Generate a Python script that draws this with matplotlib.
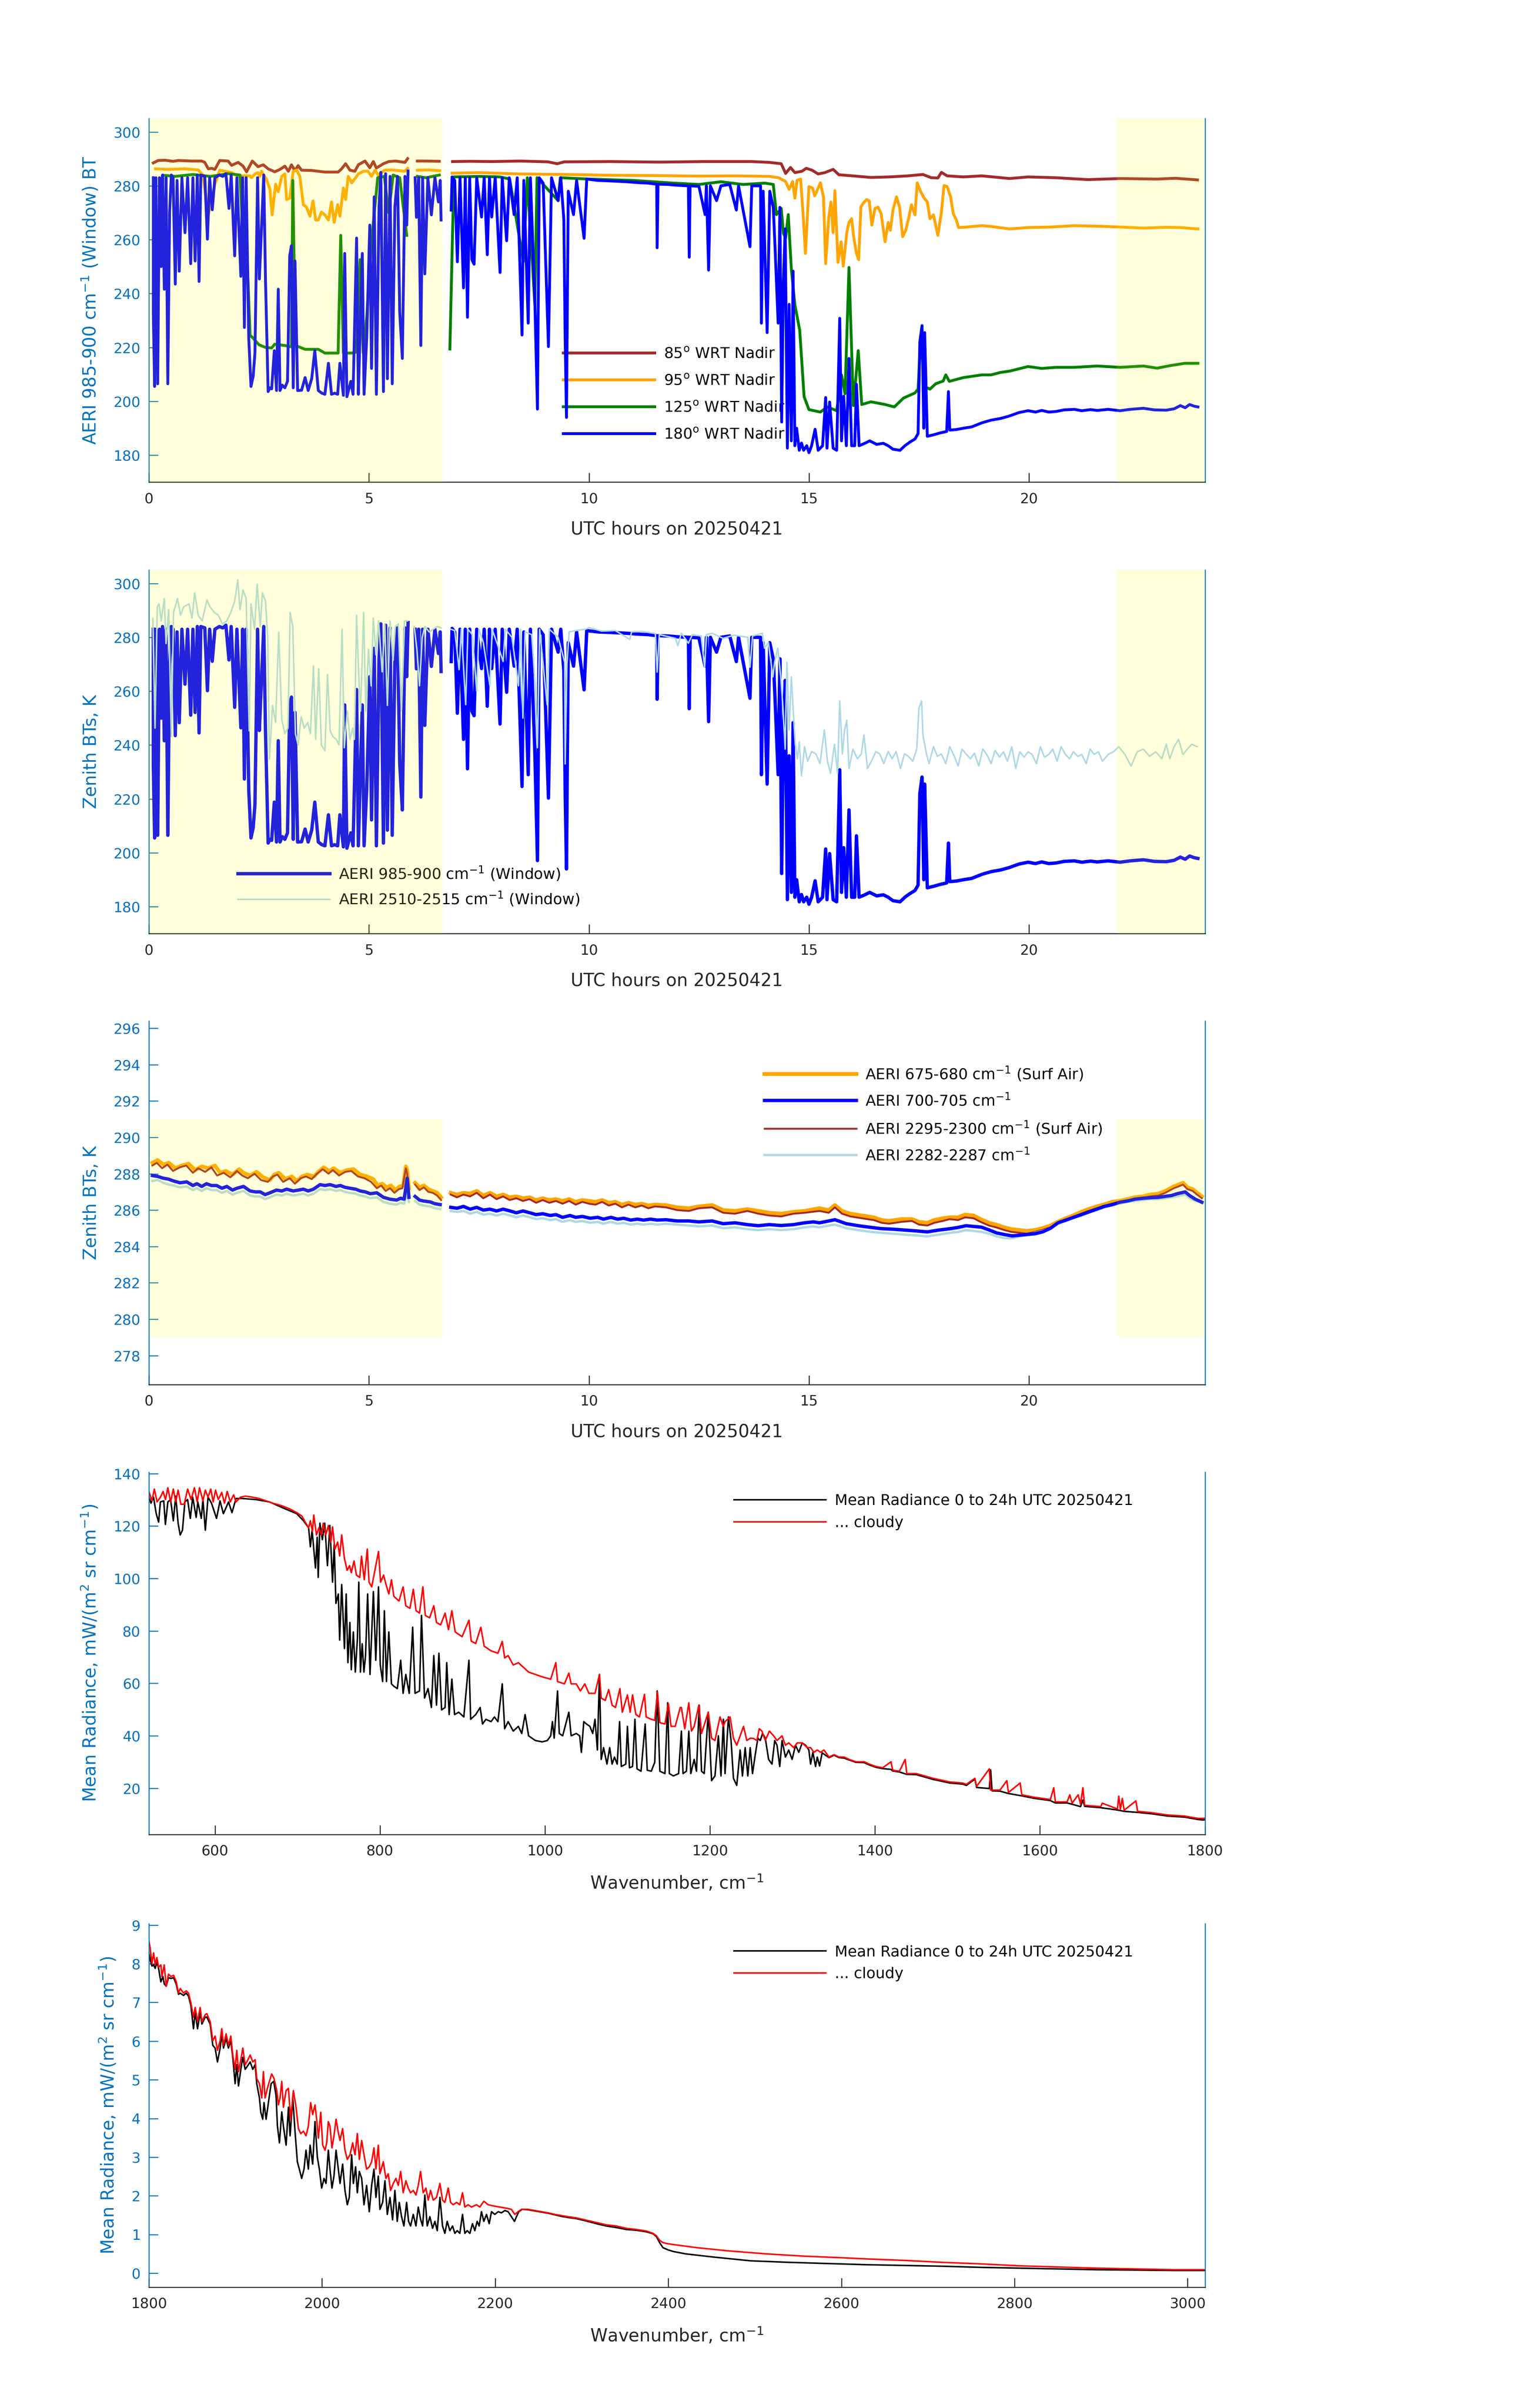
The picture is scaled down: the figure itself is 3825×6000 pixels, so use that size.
import numpy as np
import matplotlib
matplotlib.use('Agg')
import matplotlib.pyplot as plt

nan = np.nan

# ---- panel 1 : BTs for the 4 scene angles, (hour, K) ----
bt85 = [(0.1,288.5),(0.21,289.4),(0.36,289.5),(0.55,289.1),(0.67,289.4),(0.97,289.2),(1.2,289.2),(1.27,288.7),(1.35,286.3),(1.42,286.5),(1.5,286.1),(1.61,289.4),(1.8,289.2),(1.88,287.6),(2.03,288.7),(2.14,287.3),(2.22,285.2),(2.35,289.2),(2.48,287.1),(2.6,287.8),(2.71,286.3),(2.86,285.2),(2.98,286.1),(3.09,287.3),(3.17,285.4),(3.24,287.8),(3.32,285.6),(3.39,287.5),(3.47,285.8),(3.7,285.7),(4.0,285.1),(4.3,285.1),(4.38,286.3),(4.47,288.2),(4.57,285.8),(4.68,285.4),(4.76,287.8),(4.91,289.2),(5.02,286.7),(5.1,289.0),(5.17,286.6),(5.33,288.2),(5.45,289.0),(5.6,289.2),(5.82,288.7),(5.88,290.1),(5.95,nan),(6.1,289.2),(6.27,289.2),(6.6,289.1),(6.75,nan),(6.9,289.0),(7.3,289.1),(7.8,289.0),(8.44,289.2),(9.07,288.9),(9.28,288.2),(9.44,288.9),(10.5,289.0),(11.59,288.8),(12.6,289.0),(13.7,289.0),(14.1,288.7),(14.37,288.2),(14.47,284.6),(14.58,286.8),(14.68,284.9),(14.84,285.4),(14.94,286.5),(15.07,285.8),(15.21,284.4),(15.36,284.9),(15.55,286.1),(15.68,284.1),(15.99,283.7),(16.41,283.1),(16.83,283.3),(17.25,283.7),(17.59,284.2),(17.78,283.0),(17.93,282.9),(18.01,285.0),(18.14,283.7),(18.51,283.3),(18.93,283.7),(19.56,282.7),(19.98,283.3),(20.61,283.0),(21.34,282.3),(22.07,282.7),(22.91,282.5),(23.33,282.8),(23.83,282.2)]

bt95 = [(0.15,286.3),(0.44,286.1),(0.82,286.3),(1.12,285.9),(1.23,283.9),(1.35,269.2),(1.42,274.0),(1.5,280.6),(1.61,285.8),(1.88,284.9),(2.03,283.5),(2.18,283.7),(2.3,283.7),(2.33,283.0),(2.41,284.4),(2.48,284.9),(2.52,283.5),(2.56,285.4),(2.67,282.5),(2.75,278.7),(2.8,269.2),(2.88,280.6),(2.94,277.8),(3.02,283.5),(3.09,284.4),(3.13,274.9),(3.2,275.4),(3.28,285.4),(3.36,285.8),(3.43,283.5),(3.51,273.0),(3.58,272.1),(3.66,268.7),(3.73,274.4),(3.79,267.3),(3.85,267.3),(3.92,270.2),(4.0,269.2),(4.08,267.3),(4.15,274.0),(4.21,266.4),(4.29,273.0),(4.34,268.7),(4.42,279.2),(4.47,274.9),(4.53,283.5),(4.61,281.1),(4.76,284.4),(4.87,285.4),(4.98,285.4),(5.06,283.5),(5.14,285.8),(5.21,284.0),(5.36,285.8),(5.52,285.9),(5.82,285.4),(5.88,286.5),(5.95,nan),(6.1,285.8),(6.35,285.9),(6.61,285.6),(6.75,nan),(6.89,284.7),(7.5,284.9),(8.44,284.4),(9.5,284.2),(10.5,283.9),(11.5,283.8),(12.5,283.6),(13.3,283.7),(14.1,283.5),(14.31,283.0),(14.47,281.6),(14.55,278.7),(14.63,281.6),(14.68,275.4),(14.73,282.0),(14.81,282.5),(14.86,271.1),(14.92,254.9),(15.0,279.7),(15.08,279.2),(15.13,276.3),(15.21,279.2),(15.26,281.1),(15.33,275.9),(15.38,251.1),(15.45,268.3),(15.5,274.0),(15.55,262.6),(15.59,278.2),(15.66,251.6),(15.73,259.2),(15.78,250.2),(15.86,262.6),(15.91,266.4),(15.97,267.8),(16.02,260.6),(16.08,254.9),(16.13,252.6),(16.18,272.1),(16.23,273.5),(16.31,274.9),(16.37,274.4),(16.43,265.4),(16.5,271.6),(16.57,272.1),(16.64,269.7),(16.73,259.2),(16.8,266.4),(16.85,263.5),(16.91,271.1),(16.99,275.9),(17.06,272.1),(17.13,261.1),(17.2,263.5),(17.27,268.3),(17.33,273.0),(17.41,269.2),(17.46,281.1),(17.54,277.8),(17.62,275.4),(17.69,274.0),(17.75,267.8),(17.83,269.2),(17.93,261.6),(18.01,270.2),(18.07,280.1),(18.14,279.7),(18.22,275.9),(18.28,269.7),(18.35,267.3),(18.4,264.5),(18.51,264.6),(18.72,264.9),(18.93,265.2),(19.14,264.9),(19.56,264.0),(19.98,264.5),(20.5,264.7),(21.03,265.2),(21.55,265.0),(22.07,264.7),(22.6,264.3),(23.12,264.6),(23.44,264.5),(23.84,264.0)]

bt125 = [(0.33,283.9),(0.6,283.5),(1.0,284.2),(1.4,283.5),(1.8,284.5),(2.07,284.0),(2.14,260.6),(2.22,258.7),(2.3,224.5),(2.36,223.6),(2.5,221.0),(2.65,220.0),(2.79,219.8),(2.86,221.2),(3.09,220.7),(3.24,220.2),(3.27,282.0),(3.33,220.7),(3.55,219.3),(3.85,219.3),(4.0,217.9),(4.3,217.9),(4.36,261.6),(4.42,217.9),(4.6,217.9),(4.72,218.3),(4.8,252.6),(4.87,218.0),(4.95,231.0),(5.05,258.0),(5.2,283.0),(5.35,283.5),(5.45,270.0),(5.55,284.0),(5.7,283.0),(5.86,261.6),(5.95,nan),(6.1,283.5),(6.3,283.0),(6.6,284.0),(6.75,nan),(6.84,219.4),(6.93,283.3),(7.5,283.5),(7.98,283.3),(8.2,282.5),(8.51,251.8),(8.6,283.0),(8.77,236.0),(8.82,283.0),(9.3,274.5),(9.35,283.0),(10.0,282.5),(11.0,282.0),(11.92,281.0),(12.5,280.5),(13.0,281.5),(13.5,280.5),(14.0,281.0),(14.19,280.5),(14.26,269.3),(14.37,271.6),(14.42,262.3),(14.47,260.6),(14.53,269.3),(14.6,249.1),(14.68,235.9),(14.79,226.4),(14.89,201.7),(15.0,196.9),(15.26,196.0),(15.42,197.9),(15.63,196.5),(15.74,209.8),(15.82,202.8),(15.91,249.7),(16.01,198.4),(16.12,218.8),(16.2,198.8),(16.41,199.8),(16.73,198.8),(16.94,197.9),(17.15,201.2),(17.41,203.1),(17.48,204.5),(17.54,224.5),(17.63,205.4),(17.75,204.5),(17.88,206.5),(18.05,207.5),(18.11,209.8),(18.19,207.4),(18.51,208.8),(18.93,209.8),(19.14,209.8),(19.35,210.7),(19.56,211.2),(19.98,212.9),(20.29,212.2),(20.61,212.6),(21.03,212.6),(21.55,213.1),(22.07,212.6),(22.6,213.1),(22.91,212.3),(23.23,213.3),(23.54,214.1),(23.84,214.1)]

# 180 deg = zenith window channel, also used in panel 2
bt180 = [(0.10,283),(0.10,233),(0.13,205.5),(0.16,283),(0.20,206.5),(0.24,283),(0.28,250),(0.31,284),(0.35,241.6),(0.39,283),(0.43,206.5),(0.47,270),(0.51,284),(0.55,283),(0.60,243.5),(0.64,282),(0.69,248.3),(0.75,283),(0.82,262.6),(0.88,283),(0.95,251.1),(1.0,283),(1.05,252.1),(1.1,284),(1.14,244.5),(1.18,284),(1.27,283.5),(1.33,260.2),(1.38,283),(1.44,271.1),(1.5,283),(1.6,284),(1.68,283.5),(1.75,284.5),(1.82,271.6),(1.87,284),(1.95,254),(2.0,283),(2.09,246.4),(2.13,283),(2.17,227.4),(2.21,283),(2.27,223.1),(2.32,205.5),(2.37,209.3),(2.41,217.9),(2.47,283),(2.51,245.4),(2.56,264.4),(2.61,284),(2.65,245),(2.71,203.6),(2.75,205),(2.79,204.6),(2.85,218.8),(2.9,204),(2.94,241.6),(2.98,204),(3.03,206),(3.09,205),(3.15,207.4),(3.2,254),(3.24,257.8),(3.28,205),(3.32,252.1),(3.38,204),(3.47,204.1),(3.55,208.8),(3.62,204),(3.7,208.4),(3.77,218.8),(3.85,204),(3.93,203),(4.0,202.6),(4.08,214.1),(4.15,202.6),(4.22,203),(4.29,202.6),(4.34,214.1),(4.42,202.2),(4.45,254.9),(4.5,201.7),(4.59,207.4),(4.64,202.6),(4.72,260.6),(4.76,202.6),(4.8,226.4),(4.85,254.9),(4.89,202.6),(4.95,223.6),(5.02,265.4),(5.06,212.2),(5.12,275.9),(5.17,202.6),(5.23,272.1),(5.27,285),(5.33,203.6),(5.38,284.5),(5.42,208.4),(5.48,283.5),(5.53,206.5),(5.59,272.1),(5.65,283.5),(5.7,233.1),(5.76,215.9),(5.82,283.5),(5.86,265.4),(5.89,285.5),(5.95,nan),(6.05,283),(6.08,268.3),(6.13,283),(6.18,220.7),(6.22,283),(6.27,247.3),(6.34,283),(6.42,269.2),(6.5,283),(6.58,274),(6.62,282),(6.64,267.3),(6.75,nan),(6.87,271),(6.89,283.3),(6.95,282),(7.01,251.8),(7.07,283),(7.15,242.1),(7.19,283),(7.24,231.2),(7.29,283),(7.34,252.6),(7.39,250.9),(7.45,283),(7.56,268.4),(7.62,283),(7.69,254.4),(7.74,283),(7.79,268.4),(7.87,283),(7.98,247.8),(8.03,283),(8.13,259.6),(8.19,283),(8.3,269.3),(8.37,283),(8.48,224.6),(8.52,282),(8.62,229),(8.67,283),(8.77,237.8),(8.83,197.1),(8.87,283),(8.96,281),(9.08,220.3),(9.15,283),(9.3,274.5),(9.36,283),(9.43,267.5),(9.46,222.9),(9.49,194),(9.53,278),(9.65,269.3),(9.72,282),(9.89,260.5),(9.95,282.5),(10.2,282),(10.5,281.8),(10.86,281.5),(11.1,281.2),(11.35,281),(11.54,280.6),(11.55,257),(11.57,280.6),(11.8,280.5),(12.0,280.2),(12.26,280),(12.28,253.5),(12.3,280),(12.5,279.8),(12.64,269.3),(12.67,280),(12.72,248.7),(12.76,280),(12.9,274.5),(13.0,280),(13.2,280.5),(13.35,271),(13.4,280),(13.66,257.4),(13.7,280),(13.9,280),(13.92,229),(13.96,278),(14.05,225.5),(14.11,278),(14.19,271.9),(14.23,257),(14.3,229),(14.34,272),(14.38,192.3),(14.42,245),(14.46,264),(14.51,182.6),(14.55,236),(14.6,185.3),(14.64,248.3),(14.68,183.5),(14.72,190),(14.78,181.8),(14.83,184.5),(14.88,181.8),(14.95,183.5),(15.0,180.9),(15.06,183.5),(15.14,189.6),(15.21,181.8),(15.31,183.5),(15.38,201.4),(15.41,182.6),(15.47,199.7),(15.55,182.6),(15.63,181.8),(15.7,230.8),(15.74,185.3),(15.79,201.9),(15.85,183.5),(15.91,215.9),(15.97,183.5),(16.04,183.5),(16.08,206.3),(16.14,183.5),(16.27,184.4),(16.38,185.3),(16.54,184),(16.69,184.4),(16.8,183.5),(16.91,182.2),(17.07,181.8),(17.18,183.5),(17.29,184.8),(17.41,186),(17.48,188),(17.52,222),(17.57,228.1),(17.61,190),(17.63,225.5),(17.69,187),(17.82,187.5),(17.97,188.2),(18.13,188.8),(18.17,203.6),(18.2,189.3),(18.35,189.5),(18.51,190),(18.7,190.5),(18.93,192),(19.14,193),(19.35,193.6),(19.55,194.5),(19.77,195.8),(19.98,196.5),(20.15,196),(20.29,196.6),(20.45,196),(20.61,196.2),(20.8,196.8),(21.03,197),(21.2,196.5),(21.4,196.9),(21.55,196.6),(21.8,197),(22.07,196.5),(22.3,197),(22.6,197.4),(22.85,196.8),(23.12,196.7),(23.3,197.2),(23.44,198.4),(23.55,197.6),(23.65,198.8),(23.75,198.2),(23.84,197.9)]

# ---- panel 2 : 2510-2515 cm-1 window ----
bt2510 = [(0.09,287.1),(0.14,246.3),(0.19,291.3),(0.23,292.4),(0.28,286.1),(0.35,294.4),(0.39,277.7),(0.45,290.3),(0.51,243.2),(0.56,289.2),(0.65,294.4),(0.72,288.2),(0.79,291.3),(0.91,292.4),(0.98,287.1),(1.04,296.5),(1.12,288.2),(1.21,286.1),(1.32,293.9),(1.39,291.3),(1.49,289.2),(1.58,288.2),(1.67,285),(1.77,286.1),(1.86,289.2),(1.95,293.4),(2.02,301.3),(2.07,290.3),(2.14,297.6),(2.21,294.4),(2.28,245.3),(2.32,292.4),(2.4,283),(2.46,299.7),(2.53,284),(2.58,296.5),(2.65,293.4),(2.7,279.8),(2.74,234.8),(2.81,254.7),(2.88,248.4),(2.95,281.9),(3.02,249.5),(3.09,244.2),(3.16,246.3),(3.21,289.2),(3.27,284),(3.33,244.2),(3.39,240),(3.46,250.5),(3.53,246.3),(3.61,248.4),(3.67,244.2),(3.74,269.3),(3.79,242.1),(3.86,268.3),(3.92,240),(4.0,237.9),(4.06,266.2),(4.12,245.3),(4.18,243.2),(4.26,242.1),(4.32,240),(4.39,283),(4.44,239),(4.51,252.6),(4.57,242.1),(4.63,246.3),(4.67,242.1),(4.72,288.2),(4.77,265.2),(4.81,252.6),(4.88,289.2),(4.93,252.6),(4.99,275.6),(5.05,262),(5.1,287.1),(5.16,273.5),(5.22,286.1),(5.3,267.2),(5.36,285),(5.42,254.7),(5.48,286.1),(5.55,271.4),(5.6,284),(5.67,285),(5.74,252.6),(5.81,286.1),(5.88,286.1),(5.95,nan),(6.03,284),(6.09,275.6),(6.15,262),(6.21,279.8),(6.27,284),(6.37,282),(6.46,283),(6.55,284),(6.64,283.5),(6.75,nan),(6.86,283),(6.95,282.5),(7.05,268),(7.1,283),(7.2,255),(7.25,283),(7.35,281),(7.45,260),(7.5,283),(7.6,278),(7.75,262),(7.8,283),(7.95,276),(8.05,271),(8.1,283),(8.25,280),(8.4,262),(8.45,283),(8.5,250),(8.55,282),(8.7,281),(8.78,262),(8.83,239),(8.88,283),(9.05,255),(9.1,283),(9.3,280),(9.45,270.7),(9.46,233),(9.5,270),(9.55,282),(9.7,282.5),(9.92,283),(10.01,283.6),(10.29,282.3),(10.6,282.5),(10.93,279.2),(10.97,282),(11.2,282.2),(11.51,281.4),(11.55,267.1),(11.6,281),(11.97,279.6),(12.02,276.9),(12.1,281.5),(12.26,277.8),(12.35,281),(12.55,280.5),(12.63,268.9),(12.67,281),(12.8,281.5),(13.05,279.6),(13.3,280.8),(13.61,280),(13.66,268.9),(13.72,280.5),(13.94,281.5),(13.99,276),(14.08,278),(14.18,265.3),(14.22,270.7),(14.29,276),(14.36,265.3),(14.41,253.7),(14.46,238.5),(14.5,270.7),(14.55,245.6),(14.6,265.3),(14.64,253.7),(14.69,240.3),(14.74,234.9),(14.78,241.2),(14.83,228.6),(14.9,239.4),(14.97,234),(15.06,237.6),(15.16,236.7),(15.25,233.1),(15.35,245.6),(15.42,234),(15.49,229.5),(15.58,240.3),(15.65,229.5),(15.7,256.4),(15.76,236.7),(15.81,245.6),(15.86,249.2),(15.91,231.3),(16.0,238.5),(16.1,234.9),(16.19,236.7),(16.25,243.8),(16.33,231.3),(16.42,234),(16.52,237.6),(16.61,236.7),(16.7,233.1),(16.8,237.6),(16.89,234.9),(16.98,237.6),(17.08,231.3),(17.17,236.7),(17.26,235.8),(17.36,234),(17.45,238.5),(17.5,253.7),(17.56,256.4),(17.59,243.8),(17.67,236.7),(17.73,233.1),(17.83,239.4),(17.92,235.8),(18.01,236.7),(18.11,233.1),(18.2,239.4),(18.3,236),(18.39,232.2),(18.48,238.5),(18.58,236.5),(18.67,234.9),(18.76,237),(18.86,232.2),(18.95,238.5),(19.04,236.5),(19.14,233.1),(19.23,238),(19.33,235.5),(19.42,237.5),(19.51,234),(19.61,239.4),(19.7,231.3),(19.79,237.5),(19.89,235.5),(19.98,237.5),(20.07,236.5),(20.17,233.1),(20.26,239.4),(20.35,235.5),(20.45,236.5),(20.54,238.5),(20.64,234),(20.73,239.4),(20.83,236.5),(20.92,234.9),(21.01,237.5),(21.11,235.8),(21.2,236.5),(21.3,233.1),(21.39,238.5),(21.48,236.5),(21.58,237.5),(21.67,234),(21.8,236.5),(21.92,237.5),(22.04,239.4),(22.18,236.5),(22.32,232.2),(22.46,237.5),(22.6,238.5),(22.74,235.8),(22.88,237.5),(23.02,234.9),(23.12,240.3),(23.2,234.9),(23.3,239.4),(23.4,242.1),(23.5,236.5),(23.6,238.5),(23.7,240.3),(23.82,239.4)]

# ---- panel 3 : surface-air channels ----
bt675 = [(0.08,288.6),(0.2,288.75),(0.33,288.5),(0.45,288.6),(0.6,288.3),(0.75,288.45),(0.9,288.55),(1.05,288.2),(1.2,288.4),(1.35,288.3),(1.5,288.45),(1.62,288.05),(1.75,288.15),(1.9,287.95),(2.05,288.25),(2.15,288.05),(2.3,287.9),(2.45,288.1),(2.6,287.8),(2.75,287.65),(2.85,287.95),(2.95,288.05),(3.1,287.7),(3.25,287.85),(3.36,287.6),(3.48,287.85),(3.6,287.95),(3.75,287.85),(3.85,288.1),(3.97,288.35),(4.1,288.15),(4.2,288.3),(4.35,288.05),(4.5,288.2),(4.65,288.25),(4.8,287.95),(4.95,287.85),(5.1,287.7),(5.2,287.35),(5.3,287.45),(5.4,287.25),(5.5,287.35),(5.6,287.1),(5.7,287.3),(5.78,287.35),(5.84,288.4),(5.87,288.2),(5.91,287.2),(5.98,nan),(6.05,287.5),(6.15,287.25),(6.25,287.35),(6.35,287.15),(6.45,287.05),(6.55,286.95),(6.64,286.7),(6.75,nan),(6.86,286.95),(7.0,286.85),(7.15,286.95),(7.3,286.9),(7.45,287.05),(7.6,286.8),(7.75,286.95),(7.9,286.75),(8.05,286.85),(8.2,286.7),(8.35,286.75),(8.5,286.65),(8.65,286.7),(8.8,286.55),(8.95,286.65),(9.1,286.55),(9.25,286.6),(9.4,286.5),(9.55,286.6),(9.7,286.45),(9.85,286.55),(10.0,286.5),(10.15,286.45),(10.3,286.55),(10.45,286.4),(10.6,286.45),(10.75,286.3),(10.9,286.4),(11.05,286.3),(11.2,286.35),(11.35,286.25),(11.5,286.3),(11.75,286.27),(12.0,286.15),(12.27,286.1),(12.5,286.2),(12.8,286.27),(13.05,286.0),(13.32,285.95),(13.6,286.05),(13.85,285.95),(14.1,285.85),(14.37,285.8),(14.65,285.9),(14.9,285.95),(15.24,286.1),(15.45,286.0),(15.59,286.27),(15.75,285.95),(15.94,285.8),(16.2,285.7),(16.47,285.6),(16.65,285.45),(16.82,285.4),(17.1,285.5),(17.34,285.5),(17.5,285.35),(17.69,285.3),(17.85,285.45),(18.04,285.55),(18.2,285.6),(18.39,285.6),(18.55,285.75),(18.74,285.7),(18.9,285.5),(19.09,285.3),(19.25,285.2),(19.44,285.05),(19.6,284.95),(19.79,284.9),(19.95,284.85),(20.14,284.9),(20.3,285.0),(20.49,285.15),(20.65,285.35),(20.84,285.55),(21.0,285.7),(21.19,285.9),(21.35,286.05),(21.54,286.2),(21.7,286.3),(21.89,286.45),(22.05,286.5),(22.24,286.6),(22.4,286.7),(22.59,286.75),(22.75,286.85),(22.94,286.9),(23.1,287.05),(23.29,287.3),(23.4,287.4),(23.5,287.5),(23.6,287.25),(23.72,287.15),(23.82,286.95),(23.93,286.75)]

bt700 = [(0.08,287.9),(0.2,287.85),(0.33,287.75),(0.45,287.7),(0.56,287.6),(0.71,287.5),(0.86,287.55),(1.0,287.35),(1.09,287.45),(1.2,287.3),(1.31,287.45),(1.42,287.35),(1.54,287.35),(1.66,287.2),(1.77,287.3),(1.9,287.1),(2.0,287.2),(2.15,287.3),(2.3,287.05),(2.42,287.0),(2.53,287.0),(2.64,286.85),(2.75,286.95),(2.9,287.1),(3.02,287.05),(3.13,287.15),(3.28,287.05),(3.4,287.1),(3.51,287.15),(3.62,287.05),(3.74,287.15),(3.89,287.4),(4.0,287.35),(4.12,287.4),(4.25,287.3),(4.35,287.35),(4.46,287.25),(4.57,287.2),(4.7,287.15),(4.8,287.05),(4.92,287.0),(5.03,286.9),(5.18,286.95),(5.33,286.7),(5.48,286.6),(5.63,286.55),(5.72,286.65),(5.8,286.6),(5.87,287.75),(5.91,286.7),(5.98,nan),(6.05,286.75),(6.15,286.55),(6.24,286.5),(6.39,286.45),(6.5,286.35),(6.62,286.3),(6.75,nan),(6.86,286.15),(7.0,286.1),(7.15,286.2),(7.3,286.05),(7.45,286.15),(7.6,286.0),(7.75,286.05),(7.9,285.95),(8.05,286.05),(8.21,285.95),(8.35,285.85),(8.5,285.95),(8.66,285.85),(8.8,285.75),(8.95,285.8),(9.12,285.7),(9.25,285.75),(9.4,285.6),(9.57,285.7),(9.7,285.6),(9.85,285.65),(10.03,285.55),(10.2,285.6),(10.33,285.5),(10.5,285.6),(10.65,285.5),(10.79,285.55),(10.95,285.45),(11.1,285.5),(11.24,285.45),(11.4,285.5),(11.55,285.45),(11.75,285.47),(12.0,285.4),(12.27,285.4),(12.5,285.35),(12.8,285.4),(13.05,285.25),(13.32,285.3),(13.6,285.2),(13.85,285.14),(14.1,285.2),(14.37,285.15),(14.65,285.2),(14.9,285.3),(15.1,285.35),(15.24,285.3),(15.45,285.4),(15.59,285.47),(15.85,285.25),(16.12,285.14),(16.4,285.05),(16.64,284.98),(16.9,284.95),(17.17,284.9),(17.45,284.85),(17.69,284.8),(17.95,284.9),(18.22,284.98),(18.4,285.05),(18.57,285.14),(18.75,285.1),(18.92,285.06),(19.1,284.9),(19.27,284.74),(19.45,284.65),(19.62,284.58),(19.8,284.62),(19.97,284.66),(20.14,284.7),(20.31,284.8),(20.49,285.0),(20.66,285.3),(20.84,285.45),(21.01,285.6),(21.19,285.75),(21.36,285.9),(21.54,286.05),(21.71,286.2),(21.89,286.3),(22.06,286.43),(22.24,286.5),(22.41,286.6),(22.59,286.65),(22.76,286.68),(22.94,286.7),(23.11,286.76),(23.24,286.8),(23.37,286.9),(23.46,286.95),(23.55,287.0),(23.65,286.8),(23.78,286.6),(23.87,286.5),(23.93,286.43)]

bt2295 = [(0.08,288.45),(0.18,288.6),(0.3,288.3),(0.42,288.5),(0.55,288.15),(0.7,288.35),(0.85,288.45),(1.0,288.05),(1.12,288.3),(1.28,288.1),(1.42,288.35),(1.55,287.9),(1.7,288.05),(1.85,287.8),(2.0,288.15),(2.12,287.9),(2.25,287.75),(2.4,288.0),(2.55,287.65),(2.7,287.55),(2.82,287.85),(2.92,287.95),(3.05,287.55),(3.2,287.75),(3.32,287.45),(3.45,287.75),(3.57,287.85),(3.7,287.7),(3.82,288.0),(3.95,288.25),(4.08,288.0),(4.18,288.2),(4.32,287.9),(4.46,288.1),(4.6,288.15),(4.75,287.85),(4.9,287.75),(5.05,287.55),(5.18,287.2),(5.28,287.35),(5.38,287.05),(5.48,287.2),(5.58,286.95),(5.68,287.15),(5.76,287.2),(5.84,288.3),(5.87,288.0),(5.91,287.0),(5.98,nan),(6.05,287.4),(6.15,287.1),(6.25,287.25),(6.35,287.0),(6.45,286.95),(6.55,286.8),(6.64,286.55),(6.75,nan),(6.86,286.85),(7.0,286.7),(7.15,286.85),(7.3,286.75),(7.45,286.95),(7.6,286.65),(7.75,286.85),(7.9,286.6),(8.05,286.75),(8.2,286.55),(8.35,286.65),(8.5,286.5),(8.65,286.6),(8.8,286.4),(8.95,286.55),(9.1,286.4),(9.25,286.5),(9.4,286.35),(9.55,286.5),(9.7,286.3),(9.85,286.45),(10.0,286.35),(10.15,286.3),(10.3,286.45),(10.45,286.25),(10.6,286.35),(10.75,286.15),(10.9,286.3),(11.05,286.15),(11.2,286.25),(11.35,286.1),(11.5,286.2),(11.75,286.15),(12.0,286.0),(12.27,285.95),(12.5,286.1),(12.8,286.15),(13.05,285.85),(13.32,285.8),(13.6,285.95),(13.85,285.8),(14.1,285.7),(14.37,285.65),(14.65,285.8),(14.9,285.85),(15.24,285.95),(15.45,285.85),(15.59,286.15),(15.75,285.8),(15.94,285.65),(16.2,285.55),(16.47,285.45),(16.65,285.3),(16.82,285.25),(17.1,285.35),(17.34,285.4),(17.5,285.2),(17.69,285.15),(17.85,285.3),(18.04,285.4),(18.2,285.5),(18.39,285.45),(18.55,285.6),(18.74,285.55),(18.9,285.35),(19.09,285.15),(19.25,285.05),(19.44,284.9),(19.6,284.8),(19.79,284.75),(19.95,284.7),(20.14,284.8),(20.3,284.9),(20.49,285.05),(20.65,285.25),(20.84,285.45),(21.0,285.6),(21.19,285.8),(21.35,285.95),(21.54,286.1),(21.7,286.2),(21.89,286.35),(22.05,286.4),(22.24,286.5),(22.4,286.6),(22.59,286.65),(22.75,286.75),(22.94,286.8),(23.1,286.95),(23.29,287.2),(23.4,287.3),(23.5,287.4),(23.6,287.15),(23.72,287.05),(23.82,286.85),(23.93,286.65)]

bt2282 = [(0.08,287.6),(0.2,287.65),(0.33,287.5),(0.45,287.4),(0.56,287.35),(0.71,287.25),(0.86,287.3),(1.0,287.1),(1.09,287.2),(1.2,287.05),(1.31,287.2),(1.42,287.1),(1.54,287.1),(1.66,286.95),(1.77,287.05),(1.9,286.85),(2.0,286.95),(2.15,287.05),(2.3,286.8),(2.42,286.75),(2.53,286.75),(2.64,286.6),(2.75,286.7),(2.9,286.85),(3.02,286.8),(3.13,286.9),(3.28,286.8),(3.4,286.85),(3.51,286.9),(3.62,286.8),(3.74,286.9),(3.89,287.15),(4.0,287.1),(4.12,287.15),(4.25,287.05),(4.35,287.1),(4.46,287.0),(4.57,286.95),(4.7,286.9),(4.8,286.8),(4.92,286.75),(5.03,286.65),(5.18,286.7),(5.33,286.45),(5.48,286.35),(5.63,286.3),(5.72,286.4),(5.8,286.35),(5.87,286.9),(5.91,286.45),(5.98,nan),(6.05,286.5),(6.15,286.3),(6.24,286.25),(6.39,286.2),(6.5,286.1),(6.62,286.05),(6.75,nan),(6.86,285.95),(7.0,285.9),(7.15,285.95),(7.3,285.8),(7.45,285.9),(7.6,285.75),(7.75,285.8),(7.9,285.7),(8.05,285.8),(8.21,285.7),(8.35,285.6),(8.5,285.7),(8.66,285.6),(8.8,285.5),(8.95,285.55),(9.12,285.45),(9.25,285.5),(9.4,285.35),(9.57,285.45),(9.7,285.35),(9.85,285.4),(10.03,285.3),(10.2,285.35),(10.33,285.25),(10.5,285.35),(10.65,285.25),(10.79,285.3),(10.95,285.2),(11.1,285.25),(11.24,285.2),(11.4,285.25),(11.55,285.2),(11.75,285.25),(12.0,285.2),(12.27,285.15),(12.5,285.1),(12.8,285.15),(13.05,285.0),(13.32,285.05),(13.6,284.95),(13.85,284.9),(14.1,284.95),(14.37,284.9),(14.65,284.95),(14.9,285.05),(15.1,285.1),(15.24,285.05),(15.45,285.15),(15.59,285.2),(15.85,285.0),(16.12,284.9),(16.4,284.8),(16.64,284.75),(16.9,284.7),(17.17,284.65),(17.45,284.6),(17.69,284.55),(17.95,284.65),(18.22,284.75),(18.4,284.8),(18.57,284.9),(18.75,284.85),(18.92,284.8),(19.1,284.7),(19.27,284.55),(19.45,284.45),(19.62,284.45),(19.8,284.55),(19.97,284.65),(20.14,284.75),(20.31,284.85),(20.49,285.0),(20.66,285.25),(20.84,285.4),(21.01,285.55),(21.19,285.7),(21.36,285.85),(21.54,286.0),(21.71,286.15),(21.89,286.25),(22.06,286.35),(22.24,286.45),(22.41,286.5),(22.59,286.55),(22.76,286.6),(22.94,286.6),(23.11,286.65),(23.24,286.7),(23.37,286.75),(23.46,286.8),(23.55,286.85),(23.65,286.65),(23.78,286.5),(23.87,286.45),(23.93,286.4)]

# ---- panel 4 : mean radiance 520-1800 cm-1, (wavenumber, mW/(m2 sr cm-1)) ----
rad_mean_lw = [(520,131.0),(522.5,128.7),(525.6,131.0),(528.9,124.7),(531.8,121.5),(533.9,129.2),(538,129.6),(540,120.6),(543,129.2),(546.3,130.1),(549.6,122.0),(552.5,131.4),(555.4,121.1),(557.9,116.6),(560.7,118.4),(563.6,129.2),(566.9,130.1),(570.2,122.9),(573.1,131.0),(577.3,123.3),(579.3,129.2),(583.5,122.9),(585.5,130.1),(588.4,118.4),(591.7,131.0),(595.9,128.7),(602,122.9),(606.2,129.6),(610.3,124.7),(616.5,129.2),(620.7,125.1),(625.6,130.5),(633,130.5),(649.6,130.1),(666.1,129.2),(682.6,126.9),(699.2,124.7),(707.4,122.0),(713.6,119.3),(715.7,112.1),(717.8,118.4),(721.9,104.0),(724,115.7),(725.2,100.4),(727.3,121.1),(730.2,114.8),(733.1,121.1),(736.4,104.9),(739.3,120.2),(742.6,98.6),(744.6,113.0),(746.7,90.5),(749.6,94.1),(751.2,76.5),(753.7,97.7),(757,73.3),(759.1,94.1),(761.2,67.9),(763.6,83.2),(765.3,65.2),(767.8,79.6),(770.2,64.3),(772.7,76.9),(774.4,98.6),(776.4,64.3),(778.5,75.1),(780.6,64.3),(782.6,70.6),(785.1,94.1),(788,63.4),(792.1,95.0),(795,68.8),(798.3,96.8),(800.4,67.1),(803.3,60.7),(805.4,87.7),(807.9,60.7),(810.8,79.6),(814,59.8),(816.9,58.9),(821.1,58.0),(825.2,68.8),(828.1,56.2),(831.4,63.4),(835.5,56.2),(839.7,81.4),(842.6,56.2),(848,57.1),(850.4,85.9),(854.1,54.4),(858.3,58.0),(862.4,50.8),(865.3,70.6),(868.6,51.7),(871.5,71.5),(874.8,49.9),(879,50.8),(881,67.9),(883.9,48.1),(887.2,61.6),(890.5,48.1),(895.5,49.0),(901.7,47.2),(907.9,68.8),(910,46.3),(916.1,48.1),(921.5,50.8),(924.4,44.5),(928.5,46.3),(934.7,45.4),(938.8,47.2),(943,45.4),(948.3,59.8),(951.2,42.7),(955.4,45.4),(961.6,41.8),(967.8,43.6),(971.9,40.9),(976,48.1),(980.2,40.0),(988.4,38.2),(996.7,37.7),(1002.9,38.2),(1007,40.0),(1009.1,45.4),(1011.2,39.1),(1015.3,57.1),(1017.4,40.9),(1021.5,40.0),(1029,49.0),(1031.8,40.0),(1038,40.9),(1042.1,40.0),(1044.2,33.7),(1047.1,45.4),(1050.4,44.5),(1054.5,43.6),(1057.9,40.9),(1060.7,46.3),(1063.6,34.6),(1066.1,63.4),(1068.2,31.0),(1071.1,35.5),(1075.2,29.2),(1078.5,35.5),(1081.4,29.2),(1084.3,31.9),(1087.6,29.2),(1090.5,45.4),(1092.6,28.3),(1098,29.2),(1100,43.6),(1102.5,27.8),(1106.2,28.3),(1109.1,46.3),(1111.6,27.4),(1116.5,26.5),(1121.5,44.5),(1124,26.9),(1128.9,26.5),(1133.1,29.9),(1136,57.1),(1139.3,26.5),(1145.5,25.6),(1148.8,52.6),(1150.8,25.6),(1155.8,24.7),(1162,25.6),(1165.4,41.8),(1167.4,25.6),(1171.5,26.5),(1174.4,41.8),(1176.8,25.6),(1180.9,31.0),(1183.7,26.5),(1187,51.7),(1189.8,26.5),(1193.1,25.6),(1198,49.0),(1202,22.9),(1206.1,24.7),(1210.2,40.0),(1213.4,24.7),(1216.3,46.3),(1218.3,25.6),(1222.4,47.2),(1225.6,38.2),(1228.5,23.8),(1232.5,21.1),(1236.6,34.6),(1239.4,24.7),(1242.7,35.5),(1245.9,24.7),(1248.8,35.5),(1251.6,25.6),(1254.9,32.8),(1258.1,39.1),(1261,38.2),(1263.8,40.9),(1267.1,39.1),(1271.1,31.0),(1275.2,29.2),(1278.5,38.2),(1281.3,36.4),(1284.6,28.3),(1287.4,38.2),(1291.5,31.9),(1295.5,34.6),(1299.6,31.0),(1303.7,36.4),(1307.7,33.7),(1311.8,37.3),(1315.9,36.4),(1319.9,34.6),(1322,29.2),(1324.8,33.7),(1328,28.3),(1330.1,31.9),(1332.9,28.5),(1336,33.5),(1344.3,31.7),(1350.4,32.6),(1356.5,31.7),(1362.6,31.5),(1368.7,30.8),(1376.8,29.9),(1387,29.8),(1393.1,28.9),(1401.2,28.0),(1409.3,27.5),(1419.5,27.2),(1421.5,26.6),(1429.7,26.2),(1438.6,25.3),(1450,25.2),(1470.3,23.4),(1490.7,22.0),(1506.1,21.6),(1510.9,21.1),(1521.1,23.5),(1523.2,20.3),(1538.6,19.9),(1540.2,27.0),(1542,19.0),(1551.6,18.9),(1561.8,18.0),(1578,17.1),(1592.3,16.2),(1612.6,15.3),(1618.7,14.4),(1632.9,14.4),(1639,13.9),(1649.2,13.0),(1652,15.5),(1654.1,13.1),(1673.6,12.6),(1693.9,11.7),(1702,11.2),(1718.3,10.8),(1734.6,10.3),(1754.9,9.4),(1775.2,9.0),(1791.5,8.1),(1797.6,7.9),(1800,8.0)]

rad_cloudy_lw = [(520,133.2),(523.7,129.6),(526.6,134.1),(529.9,129.2),(534,131.0),(537.2,133.2),(540.1,130.1),(543,134.6),(546.3,129.2),(549.6,134.1),(552.5,129.2),(555.4,133.7),(558.7,128.3),(562.8,128.3),(567,134.1),(571.1,130.1),(575.2,134.6),(578.5,129.2),(581.4,134.6),(585.5,129.6),(588.4,133.7),(591.7,131.0),(595,134.1),(597.9,129.2),(600.8,133.7),(604.1,130.1),(608.3,132.8),(611.6,128.7),(614.9,133.2),(618.6,129.2),(622.7,131.9),(625.6,129.2),(631,131.0),(637.2,131.4),(645.5,131.0),(653.7,130.5),(662,129.6),(670.2,128.7),(680.6,127.8),(690.9,126.5),(699.2,125.1),(705.4,123.8),(709.5,121.5),(713.6,119.3),(715.7,122.0),(718.2,117.9),(719.8,124.2),(723.1,116.6),(726,119.3),(728.9,116.6),(731.4,121.1),(734.3,116.6),(737.6,120.2),(740.5,113.9),(742.6,119.7),(745.5,111.2),(748.8,113.9),(751.2,108.6),(753.7,116.6),(757,107.6),(760.3,103.1),(763.2,104.9),(765.3,102.2),(768.6,106.7),(771.5,101.3),(775.6,100.4),(777.7,108.5),(781,99.5),(784.7,111.2),(786.8,98.6),(790.1,96.8),(795,104.9),(798.3,110.3),(800.8,98.6),(804.5,101.3),(807.4,97.7),(810.8,94.1),(814,99.5),(816.9,93.2),(823.1,91.4),(828.1,96.8),(831.4,89.6),(836.4,88.6),(840.5,95.9),(843.8,87.7),(848,86.8),(852.1,96.8),(855,85.9),(860.3,85.0),(865.3,89.6),(868.6,83.2),(873.6,82.3),(879,86.8),(883.1,80.5),(887.2,87.7),(891.3,79.6),(899.6,77.8),(907.9,84.1),(910.7,76.1),(916.1,75.2),(922.3,81.4),(926.4,74.2),(934.7,72.4),(943,71.5),(948.3,76.0),(951.2,69.7),(955.4,70.6),(961.6,67.0),(967.8,67.9),(974,66.1),(980.2,64.3),(988.4,63.4),(996.7,62.5),(1007,61.6),(1013.2,67.9),(1015.3,60.7),(1023.6,59.8),(1029,63.9),(1031.8,59.8),(1038,59.8),(1043,57.1),(1048.3,59.8),(1053.3,56.2),(1060.7,56.2),(1066.1,63.4),(1068.2,54.4),(1073.1,53.5),(1077.3,57.6),(1081.4,51.7),(1085.5,50.8),(1090.9,58.0),(1093.8,49.0),(1100,55.6),(1103.3,49.0),(1106.2,55.6),(1110.3,48.1),(1114.5,47.2),(1120.7,55.8),(1122.7,47.2),(1128.9,46.3),(1133.1,45.9),(1136.4,56.7),(1139.3,45.0),(1145.5,44.5),(1149.6,52.2),(1152.9,43.6),(1157.9,43.6),(1164,50.8),(1165.4,50.8),(1169.5,42.7),(1174.4,52.6),(1177.6,41.8),(1180.9,43.6),(1186.6,51.7),(1189.8,40.9),(1198,49.0),(1202,39.1),(1206.1,38.2),(1212.2,47.2),(1216.3,43.6),(1218.3,45.4),(1224.4,47.2),(1228.5,39.1),(1232.5,36.4),(1236.6,40.0),(1240.7,43.6),(1244.7,38.2),(1248.8,39.1),(1252.8,39.0),(1256.9,38.2),(1259.8,42.7),(1263,41.8),(1267.1,38.2),(1272,41.8),(1277.2,40.0),(1281.3,38.2),(1287.4,40.0),(1291.5,36.4),(1295.5,37.3),(1301.6,35.5),(1305.7,37.3),(1311.8,37.3),(1317.9,35.5),(1322,35.5),(1326,33.7),(1330.1,34.6),(1334.1,33.7),(1338.2,34.6),(1344.3,31.9),(1350.4,32.8),(1356.5,31.9),(1362.6,31.9),(1368.7,31.0),(1376.8,30.1),(1387,30.1),(1393.1,29.2),(1401.2,28.3),(1409.3,27.8),(1419.5,30.1),(1421.5,26.9),(1429.7,26.5),(1436.6,31.0),(1438.6,25.6),(1450,25.6),(1470.3,23.8),(1490.7,22.4),(1506.1,22.0),(1510.9,21.5),(1521.1,23.8),(1523.2,20.7),(1538.6,27.4),(1540.2,19.3),(1551.6,19.3),(1559.8,22.9),(1561.8,18.4),(1576,22.0),(1578,17.5),(1592.3,16.6),(1612.6,15.7),(1616.7,20.2),(1618.7,14.8),(1632.9,14.8),(1636.2,17.5),(1639,14.3),(1646.3,17.5),(1649.2,13.9),(1652,20.2),(1654.1,13.5),(1673.6,13.0),(1675.6,14.3),(1693.9,12.1),(1695.5,17.0),(1697.5,12.0),(1699.8,16.1),(1702,11.6),(1716.3,15.2),(1718.3,11.2),(1734.6,10.7),(1754.9,9.8),(1775.2,9.4),(1791.5,8.5),(1797.6,8.5),(1800,8.6)]

# ---- panel 5 : mean radiance 1800-3020 cm-1 ----
rad_mean_sw = [(1800,8.28),(1801.5,8.1),(1803.5,7.94),(1805.4,7.97),(1807.3,7.88),(1809.2,8.04),(1811.2,7.88),(1813.8,7.53),(1816.2,7.67),(1817.7,7.48),(1820,7.42),(1822.7,7.64),(1825.4,7.62),(1828.5,7.64),(1831.5,7.48),(1834.2,7.21),(1836.2,7.24),(1840,7.18),(1843.1,7.24),(1845.8,7.16),(1848.5,6.92),(1851.5,6.32),(1853.5,6.75),(1856.2,6.32),(1859.2,6.75),(1861.2,6.44),(1865,6.62),(1866.9,6.62),(1870.8,6.44),(1873.8,5.89),(1876.5,5.82),(1879.2,5.46),(1882.3,5.82),(1884.2,6.19),(1886.2,5.82),(1889.2,6.07),(1891.9,5.82),(1894.6,6.01),(1896.9,5.58),(1899.6,4.9),(1901.5,5.39),(1903.5,4.84),(1906.2,5.27),(1908.5,5.58),(1911.2,5.27),(1913.1,5.33),(1917,5.46),(1920,5.27),(1922.7,5.39),(1924.6,4.9),(1927.7,4.53),(1929.2,4.17),(1931.5,3.98),(1933,4.41),(1935.4,3.98),(1939.2,4.59),(1941.2,4.9),(1944.2,4.96),(1946.9,4.59),(1948.5,3.8),(1950.8,3.37),(1953.5,4.17),(1955.4,3.8),(1958.5,3.31),(1961.2,4.29),(1963.1,3.55),(1966.2,4.53),(1968.8,3.67),(1971.5,2.88),(1973.8,2.69),(1976.5,2.45),(1979.2,2.69),(1981.5,3.18),(1984.2,2.69),(1986.2,3.31),(1989.2,2.82),(1991.9,3.92),(1994.6,3.0),(1996.9,2.69),(1999.6,2.2),(2002.3,2.45),(2004.6,2.32),(2007.3,3.18),(2009.2,2.69),(2011.5,2.2),(2013.8,2.51),(2016.2,3.18),(2018.8,2.69),(2020.8,2.32),(2023.8,2.82),(2026.5,2.14),(2029.2,1.77),(2031.5,1.96),(2034.2,3.06),(2036.2,2.32),(2038.8,2.75),(2040.8,2.08),(2043.1,2.63),(2045.8,2.45),(2048.5,1.77),(2051.5,2.27),(2054.6,1.59),(2057.3,2.27),(2060,2.69),(2062.3,1.96),(2065,2.51),(2066.9,1.65),(2070,1.83),(2072.7,2.39),(2075.4,1.52),(2078.5,1.96),(2081.5,1.38),(2084.2,2.14),(2086.9,1.34),(2089.2,1.83),(2091.9,1.46),(2094.6,1.22),(2097.7,1.83),(2100,1.34),(2102.3,1.22),(2105.4,1.52),(2108.5,1.22),(2111.2,1.71),(2113.8,1.4),(2116.2,1.22),(2118.8,2.02),(2121.5,1.22),(2124.6,1.46),(2127.7,1.16),(2130.4,1.34),(2133.1,1.1),(2136.2,1.96),(2139.2,1.22),(2141.9,1.03),(2144.6,1.34),(2147.7,1.1),(2150.8,1.22),(2153.5,1.03),(2156.2,1.1),(2159.2,1.03),(2162.3,1.52),(2165,1.03),(2167.7,1.1),(2170.8,1.03),(2173.8,1.28),(2176.5,1.1),(2179.2,1.34),(2181.5,1.22),(2184.2,1.59),(2186.9,1.34),(2190,1.52),(2193.1,1.28),(2195.8,1.59),(2199.6,1.52),(2203.5,1.59),(2207.3,1.56),(2211.2,1.62),(2215,1.59),(2218.8,1.46),(2222.3,1.34),(2224.6,1.46),(2227.3,1.59),(2231.2,1.65),(2238.1,1.64),(2245.8,1.61),(2253.5,1.58),(2261.2,1.55),(2268.8,1.51),(2276.5,1.47),(2284.2,1.44),(2293.8,1.41),(2305.4,1.35),(2316.9,1.28),(2328.5,1.22),(2340,1.18),(2351.5,1.13),(2363.1,1.11),(2374.6,1.07),(2382.3,1.02),(2386.2,0.95),(2390,0.79),(2393.8,0.66),(2400,0.6),(2406,0.56),(2420,0.5),(2451,0.42),(2495,0.32),(2540,0.28),(2584,0.25),(2628,0.22),(2673,0.2),(2717,0.18),(2762,0.15),(2806,0.13),(2851,0.11),(2895,0.09),(2940,0.08),(2984,0.07),(3020,0.07)]

rad_cloudy_sw = [(1800,8.59),(1801.5,8.4),(1803.5,8.0),(1805.4,8.28),(1807.3,7.97),(1809.2,8.16),(1811.2,7.91),(1813.8,7.97),(1815,7.67),(1817.7,7.97),(1820,7.42),(1822.7,7.73),(1825.4,7.67),(1828.5,7.7),(1831.5,7.54),(1834.2,7.24),(1836.2,7.36),(1840,7.24),(1843.1,7.3),(1845.8,7.24),(1848.5,6.99),(1851.5,6.62),(1853.5,6.87),(1856.2,6.5),(1859.2,6.87),(1861.2,6.5),(1865,6.68),(1866.9,6.71),(1870.8,6.5),(1873.8,6.01),(1876.5,6.13),(1879.2,5.76),(1882.3,6.01),(1884.2,6.32),(1886.2,5.89),(1889.2,6.19),(1891.9,5.89),(1894.6,6.13),(1896.9,5.64),(1899.6,5.27),(1901.5,5.76),(1903.5,5.21),(1906.2,5.52),(1908.5,5.82),(1911.2,5.39),(1913.1,5.46),(1917,5.64),(1920,5.46),(1922.7,5.52),(1924.6,5.03),(1927.7,4.9),(1930.4,4.53),(1932.3,5.21),(1934.2,4.53),(1936.9,4.78),(1939.2,4.96),(1941.9,5.15),(1944.6,5.03),(1947.7,4.72),(1949.6,4.35),(1951.5,4.53),(1953.5,4.96),(1955.4,4.29),(1958.5,4.72),(1961.2,4.78),(1963.8,3.98),(1966.9,4.72),(1970,4.29),(1972.7,3.74),(1975.4,3.61),(1978.5,3.67),(1981.5,3.55),(1984.2,3.8),(1986.9,4.41),(1989.2,4.1),(1991.9,4.35),(1993.8,3.98),(1995.8,3.49),(1998.5,4.16),(2000.8,3.31),(2003.5,3.18),(2005.4,3.37),(2007.3,3.92),(2009.2,3.8),(2011.5,3.24),(2013.8,3.55),(2016.2,3.98),(2018.5,3.67),(2020.8,3.43),(2023.8,3.74),(2026.5,3.18),(2029.2,2.94),(2032.3,3.06),(2035.4,3.37),(2038.1,3.06),(2040.8,3.61),(2043.1,2.94),(2045.8,3.43),(2048.5,3.06),(2051.5,2.69),(2054.6,2.75),(2057.3,2.88),(2060,3.24),(2062.3,2.69),(2065,3.31),(2066.9,2.57),(2070.8,2.88),(2073.8,2.45),(2076.5,2.57),(2079.2,2.14),(2082.3,2.32),(2085.4,2.45),(2088.1,2.27),(2090.8,2.63),(2093.8,2.08),(2096.9,2.39),(2099.6,2.2),(2102.3,2.08),(2105.4,2.14),(2108.5,2.02),(2111.2,2.27),(2113.8,2.63),(2116.9,2.08),(2120,2.2),(2122.7,1.89),(2125.4,2.14),(2128.5,1.89),(2132.3,1.96),(2136.2,2.32),(2139.2,1.89),(2141.9,1.83),(2145.8,2.2),(2148.5,1.83),(2151.5,1.77),(2155.4,1.83),(2159.2,1.77),(2162.3,2.08),(2165,1.71),(2168.8,1.77),(2172.7,1.71),(2178.5,1.77),(2182.3,1.71),(2186.9,1.86),(2191.9,1.77),(2197.7,1.74),(2205.4,1.71),(2213.1,1.68),(2218.8,1.65),(2222.7,1.52),(2226.5,1.59),(2230.4,1.65),(2238.1,1.65),(2245.8,1.62),(2253.5,1.59),(2261.2,1.56),(2268.8,1.52),(2276.5,1.49),(2284.2,1.46),(2293.8,1.43),(2305.4,1.37),(2316.9,1.31),(2328.5,1.25),(2340,1.22),(2351.5,1.16),(2363.1,1.13),(2374.6,1.09),(2382.3,1.03),(2386.2,0.97),(2390,0.85),(2393.8,0.79),(2400,0.76),(2406,0.74),(2433,0.66),(2468,0.58),(2513,0.5),(2557,0.44),(2600,0.40),(2628,0.37),(2673,0.33),(2717,0.28),(2762,0.24),(2806,0.19),(2851,0.16),(2895,0.13),(2940,0.11),(2984,0.09),(3020,0.09)]

day = '20250421'
night_spans = [(0, 6.68), (22.0, 24.0)]

MBLUE = '#0072BD'
DARK = '#262626'


def xy(pairs):
    a = np.array(pairs, dtype=float)
    return a[:, 0], a[:, 1]


def style(ax):
    ax.spines['top'].set_visible(False)
    ax.spines['left'].set_color(MBLUE)
    ax.spines['right'].set_color(MBLUE)
    ax.spines['bottom'].set_color(DARK)
    for s in ['left', 'right', 'bottom']:
        ax.spines[s].set_linewidth(0.6)
    ax.tick_params(axis='y', direction='in', length=5.5, width=0.6, colors=MBLUE,
                   labelsize=8.5, pad=5, right=False)
    ax.tick_params(axis='x', direction='in', length=5.5, width=0.6, colors=DARK,
                   labelsize=8.5, pad=6, top=False)


def leg(ax, x0, y0, spacing):
    l = ax.legend(loc='upper left', bbox_to_anchor=(x0, y0), frameon=False, fontsize=9,
                  handlelength=6.1, handletextpad=0.6, borderpad=0, borderaxespad=0,
                  labelspacing=spacing)
    return l


fig = plt.figure(figsize=(12.75, 20), dpi=300)

# panel 1
ax = fig.add_axes([0.097, 0.7998, 0.688, 0.151])
for data, c, lab in [(bt85, '#A52A2A', r'85$^{\rm o}$ WRT Nadir'),
                     (bt95, '#FFA500', r'95$^{\rm o}$ WRT Nadir'),
                     (bt125, '#008000', r'125$^{\rm o}$ WRT Nadir'),
                     (bt180, '#0000FF', r'180$^{\rm o}$ WRT Nadir')]:
    t, v = xy(data)
    ax.plot(t, v, color=c, lw=1.7, label=lab, zorder=2)
for a, b in night_spans:
    ax.axvspan(a, b, color='yellow', alpha=0.14, lw=0, zorder=10)
ax.set_xlim(0, 24)
ax.set_ylim(170, 305)
ax.set_xticks([0, 5, 10, 15, 20])
ax.set_yticks(range(180, 301, 20))
style(ax)
ax.set_ylabel(r'AERI 985-900 cm$^{-1}$ (Window) BT', color=MBLUE, fontsize=10.5, labelpad=8)
ax.set_xlabel('UTC hours on ' + day, color=DARK, fontsize=10.5, labelpad=9)
l = leg(ax, 0.392, 0.372, 0.83)
l.set_zorder(1)

# panel 2
ax = fig.add_axes([0.097, 0.6123, 0.688, 0.151])
t, v = xy(bt180)
ax.plot(t, v, color='#0000FF', lw=2.0, label=r'AERI 985-900 cm$^{-1}$ (Window)')
t, v = xy(bt2510)
ax.plot(t, v, color='#ADD8E6', lw=0.9, label=r'AERI 2510-2515 cm$^{-1}$ (Window)')
for a, b in night_spans:
    ax.axvspan(a, b, color='yellow', alpha=0.14, lw=0, zorder=10)
ax.set_xlim(0, 24)
ax.set_ylim(170, 305)
ax.set_xticks([0, 5, 10, 15, 20])
ax.set_yticks(range(180, 301, 20))
style(ax)
ax.set_ylabel('Zenith BTs, K', color=MBLUE, fontsize=10.5, labelpad=8)
ax.set_xlabel('UTC hours on ' + day, color=DARK, fontsize=10.5, labelpad=9)
leg(ax, 0.0843, 0.19, 0.5)

# panel 3
ax = fig.add_axes([0.097, 0.425, 0.688, 0.151])
t, v = xy(bt675)
ax.plot(t, v, color='#FFA500', lw=2.3, label=r'AERI 675-680 cm$^{-1}$ (Surf Air)', zorder=2)
t, v = xy(bt700)
ax.plot(t, v, color='#0000FF', lw=2.0, label=r'AERI 700-705 cm$^{-1}$', zorder=2.2)
t, v = xy(bt2295)
ax.plot(t, v, color='#A52A2A', lw=1.1, label=r'AERI 2295-2300 cm$^{-1}$ (Surf Air)', zorder=2.1)
t, v = xy(bt2282)
ax.plot(t, v, color='#ADD8E6', lw=1.4, label=r'AERI 2282-2287 cm$^{-1}$', zorder=2.1)
for a, b in night_spans:
    ax.fill_between([a, b], 279, 291, color='yellow', alpha=0.14, lw=0, zorder=10)
ax.set_xlim(0, 24)
ax.set_ylim(276.4, 296.4)
ax.set_xticks([0, 5, 10, 15, 20])
ax.set_yticks(range(278, 297, 2))
style(ax)
ax.set_ylabel('Zenith BTs, K', color=MBLUE, fontsize=10.5, labelpad=8)
ax.set_xlabel('UTC hours on ' + day, color=DARK, fontsize=10.5, labelpad=9)
leg(ax, 0.583, 0.88, 0.69)

# panel 4
ax = fig.add_axes([0.097, 0.2382, 0.688, 0.1505])
w, r = xy(rad_mean_lw)
ax.plot(w, r, color='k', lw=0.9, label='Mean Radiance 0 to 24h UTC ' + day)
w, r = xy(rad_cloudy_lw)
ax.plot(w, r, color='#FF0000', lw=0.9, label='... cloudy')
ax.set_xlim(520, 1800)
ax.set_ylim(2.4, 140.6)
ax.set_xticks(range(600, 1801, 200))
ax.set_yticks(range(20, 141, 20))
style(ax)
ax.set_ylabel(r'Mean Radiance, mW/(m$^2$ sr cm$^{-1}$)', color=MBLUE, fontsize=10.5, labelpad=8)
ax.set_xlabel(r'Wavenumber, cm$^{-1}$', color=DARK, fontsize=10.5, labelpad=9)
leg(ax, 0.554, 0.94, 0.5)

# panel 5
ax = fig.add_axes([0.097, 0.0502, 0.688, 0.151])
w, r = xy(rad_mean_sw)
ax.plot(w, r, color='k', lw=0.9, label='Mean Radiance 0 to 24h UTC ' + day)
w, r = xy(rad_cloudy_sw)
ax.plot(w, r, color='#FF0000', lw=0.9, label='... cloudy')
ax.set_xlim(1800, 3020)
ax.set_ylim(-0.36, 9.04)
ax.set_xticks(range(1800, 3001, 200))
ax.set_yticks(range(0, 10))
style(ax)
ax.set_ylabel(r'Mean Radiance, mW/(m$^2$ sr cm$^{-1}$)', color=MBLUE, fontsize=10.5, labelpad=8)
ax.set_xlabel(r'Wavenumber, cm$^{-1}$', color=DARK, fontsize=10.5, labelpad=9)
leg(ax, 0.554, 0.941, 0.5)

fig.savefig('out.png', dpi=300, facecolor='white')
